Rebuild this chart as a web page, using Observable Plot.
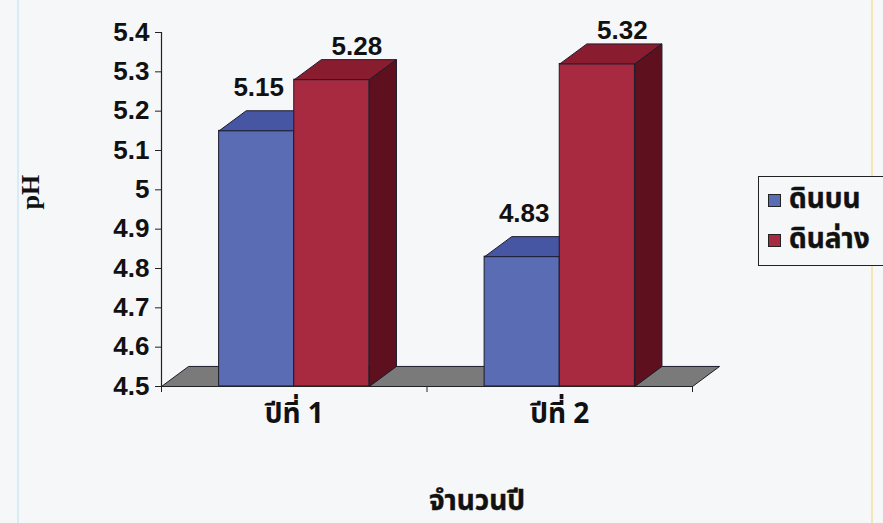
<!DOCTYPE html>
<html>
<head>
<meta charset="utf-8">
<script src="https://cdn.jsdelivr.net/npm/d3@7"></script>
<script src="https://cdn.jsdelivr.net/npm/@observablehq/plot@0.6"></script>
<style>
  html, body { margin: 0; padding: 0; background: #f6f7f9; overflow: hidden; }
  #wrap { position: relative; width: 883px; height: 523px; }
  .vline-blue { position: absolute; left: 17px; top: 0; width: 2px; height: 523px; background: #d6ecf6; }
  .vline-yellow { position: absolute; left: 871px; top: 0; width: 2px; height: 523px; background: #f1e6b4; }
  #legend { position: absolute; left: 758px; top: 176px; width: 160px; height: 90px;
    border: 1.5px solid #222; box-sizing: border-box; background: #f6f7f9;
    font-family: "Noto Sans Thai", "Noto Sans", "Liberation Sans", sans-serif; font-weight: bold; font-size: 28px; color: #111;
    -webkit-text-stroke: 0.4px #111; }
  #legend .item { position: absolute; left: 9px; height: 28px; display: flex; align-items: center; white-space: nowrap; line-height: 28px; }
  #legend .sw { width: 11px; height: 11px; border: 1px solid #222; margin-right: 8px; -webkit-text-stroke: 0; }
</style>
</head>
<body>
<div id="wrap">
  <div class="vline-blue"></div>
  <div class="vline-yellow"></div>
</div>
<script>
// ---- data ----
const categories = ["ปีที่ 1", "ปีที่ 2"];
const seriesNames = ["ดินบน", "ดินล่าง"];
const topSoil = [5.15, 4.83];   // ดินบน
const subSoil = [5.28, 5.32];   // ดินล่าง
const yTicks = [4.5, 4.6, 4.7, 4.8, 4.9, 5.0, 5.1, 5.2, 5.3, 5.4];
const yBase = 4.5;
const yTop = 5.4;
const xTitle = "จำนวนปี";
const yTitle = "pH";

// ---- styles ----
const frontColors = ["#5a6cb4", "#a82a40"];
const topColors = ["#4656a2", "#8a1c30"];
const sideColors = ["#36448a", "#5e101e"];
const edge = "#1b1b2c";
const DX = 0.102;   // depth in band units
const DY = 0.051;   // depth in pH units

const seriesValues = [topSoil, subSoil];
const bars = [];
seriesValues.forEach((vals, s) => {
  vals.forEach((v, i) => {
    const x1 = i + (s === 0 ? 0.217 : 0.5);
    const x2 = i + (s === 0 ? 0.5 : 0.783);
    bars.push({s, i, x1, x2, xc: (x1 + x2) / 2, value: v, category: categories[i], series: seriesNames[s]});
  });
});

function topPoly(b) {
  const id = `${b.s}-${b.i}`;
  return [[b.x1, b.value], [b.x2, b.value], [b.x2 + DX, b.value + DY], [b.x1 + DX, b.value + DY], [b.x1, b.value]]
    .map(([x, y]) => ({id, x, y}));
}
function sidePoly(b) {
  const id = `${b.s}-${b.i}`;
  return [[b.x2, yBase], [b.x2, b.value], [b.x2 + DX, b.value + DY], [b.x2 + DX, yBase + DY], [b.x2, yBase]]
    .map(([x, y]) => ({id, x, y}));
}
const n = categories.length;
const floor = [[0, yBase], [n, yBase], [n + DX, yBase + DY], [DX, yBase + DY], [0, yBase]].map(([x, y]) => ({id: "floor", x, y}));

const marks = [
  Plot.line(floor, {x: "x", y: "y", z: "id", fill: "#7a7a7a", stroke: edge, strokeWidth: 1})
];
for (let s = 0; s < 2; s++) {
  const bs = bars.filter(b => b.s === s);
  marks.push(
    Plot.rect(bs, {x1: "x1", x2: "x2", y1: yBase, y2: "value", fill: frontColors[s], stroke: edge, strokeWidth: 1}),
    Plot.line(bs.flatMap(topPoly), {x: "x", y: "y", z: "id", fill: topColors[s], stroke: edge, strokeWidth: 1}),
    Plot.line(bs.flatMap(sidePoly), {x: "x", y: "y", z: "id", fill: sideColors[s], stroke: edge, strokeWidth: 1})
  );
}

const fmt = d => String(+(+d).toFixed(2));
const numFont = "Liberation Sans, Arial, sans-serif";
const thaiFont = "Noto Sans Thai, Noto Sans, Liberation Sans, sans-serif";

marks.push(
  Plot.ruleX([0], {y1: yBase, y2: yTop, stroke: "#222", strokeWidth: 1.2}),
  Plot.ruleY([yBase], {x1: 0, x2: n, stroke: "#222", strokeWidth: 1.2}),
  Plot.axisY({ticks: yTicks, tickFormat: d => String(+d.toFixed(1)), tickSize: 6, tickPadding: 6,
    fontSize: 26, fontWeight: "bold", fontFamily: numFont, label: null, stroke: "#222", fill: "#111"}),
  Plot.axisX({ticks: d3.range(0, n + 1), tickFormat: () => "", tickSize: 6, label: null, stroke: "#222"}),
  Plot.axisX({ticks: categories.map((c, i) => i + 0.5), tickFormat: d => categories[Math.floor(d)], tickSize: 0,
    tickPadding: 17, fontSize: 28, fontWeight: "bold", fontFamily: thaiFont, label: null, fill: "#111",
    stroke: "#111", strokeWidth: 0.4}),
  Plot.text(bars.filter(b => b.s === 0), {x: "xc", y: "value", text: d => fmt(d.value), dx: 2, dy: -43,
    fontSize: 26, fontWeight: "bold", fontFamily: numFont, fill: "#111"}),
  Plot.text(bars.filter(b => b.s === 1), {x: "xc", y: "value", text: d => fmt(d.value), dx: 25, dy: -33,
    fontSize: 26, fontWeight: "bold", fontFamily: numFont, fill: "#111"}),
  Plot.text([yTitle], {frameAnchor: "left", text: d => d, rotate: -90, dx: -131, fontSize: 26, fontWeight: "bold",
    fontFamily: "Liberation Serif, Times New Roman, serif", fill: "#111"}),
  Plot.text([xTitle], {frameAnchor: "bottom", text: d => d, dx: 50, dy: 123, fontSize: 28, fontWeight: "bold",
    fontFamily: thaiFont, fill: "#111", stroke: "#111", strokeWidth: 0.4})
);

const chart = Plot.plot({
  width: 883,
  height: 523,
  marginLeft: 161,
  marginRight: 191,
  marginTop: 32,
  marginBottom: 137,
  x: {type: "linear", domain: [0, n], axis: null},
  y: {domain: [yBase, yTop], axis: null},
  style: {background: "transparent", overflow: "visible"},
  marks
});
chart.style.position = "absolute";
chart.style.left = "0";
chart.style.top = "0";
document.getElementById("wrap").appendChild(chart);

// legend
const legend = document.createElement("div");
legend.id = "legend";
seriesNames.forEach((name, s) => {
  const item = document.createElement("div");
  item.className = "item";
  item.style.top = (s === 0 ? 9 : 49) + "px";
  const sw = document.createElement("span");
  sw.className = "sw";
  sw.style.background = frontColors[s];
  const t = document.createElement("span");
  t.textContent = name;
  item.appendChild(sw);
  item.appendChild(t);
  legend.appendChild(item);
});
document.getElementById("wrap").appendChild(legend);
</script>
</body>
</html>
